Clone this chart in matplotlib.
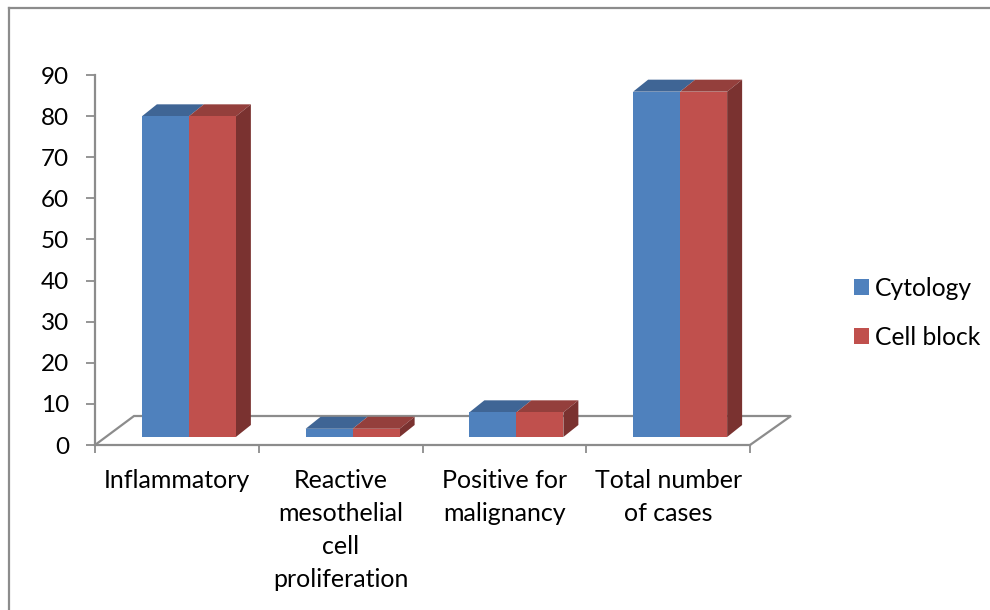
import numpy as np
import matplotlib
matplotlib.use('Agg')
import matplotlib.pyplot as plt
from matplotlib.lines import Line2D

plt.rcParams['font.family'] = ['Lato', 'DejaVu Sans']

# data
categories = ['Inflammatory', 'Reactive\nmesothelial\ncell\nproliferation',
              'Positive for\nmalignancy', 'Total number\nof cases']
cytology = [78, 2, 6, 84]
cell_block = [78, 2, 6, 84]
y_ticks = [0, 10, 20, 30, 40, 50, 60, 70, 80, 90]

W, H = 990, 610
GREY = '#8c8c8c'
BLUE, BLUE_TOP = '#4f81bd', '#3f6595'
RED, RED_TOP, RED_SIDE = '#c0504d', '#943f3c', '#7a3230'

fig = plt.figure(figsize=(W / 100, H / 100), dpi=100)
# axes box in pixels: x 95..750, y 75..445
ax = fig.add_axes([95 / W, 1 - 445 / H, 655 / W, 370 / H])
ax.set_xlim(-0.5, 3.5)
ax.set_ylim(0, 90)
ax.patch.set_visible(False)

px_x = 4 / 655   # one pixel in category units
px_y = 90 / 370  # one pixel in value units

# fake 3D depth, in data units
dx = 15 * px_x
dy = 12 * px_y
bar_w = 47 * px_x
shift = 12 * px_x
base = 8 * px_y

# floor
floor_x = [-0.5, -0.5 + 39 * px_x, 3.5 + 41 * px_x, 3.5]
floor_y = [0, 29 * px_y, 29 * px_y, 0]
ax.plot(floor_x, floor_y, color=GREY, lw=1.6, clip_on=False, zorder=1, solid_joinstyle='miter')

x = np.arange(len(categories))
b1 = ax.bar(x + shift - bar_w / 2, cytology, bar_w, bottom=base, color=BLUE, label='Cytology', zorder=4)
b2 = ax.bar(x + shift + bar_w / 2, cell_block, bar_w, bottom=base, color=RED, label='Cell block', zorder=4)

for i in x:
    left = i + shift - bar_w
    mid = i + shift
    right = i + shift + bar_w
    t1 = base + cytology[i]
    t2 = base + cell_block[i]
    ax.fill([left, left + dx, mid + dx, mid], [t1, t1 + dy, t1 + dy, t1], color=BLUE_TOP, lw=0, zorder=3, clip_on=False)
    ax.fill([mid, mid + dx, right + dx, right], [t2, t2 + dy, t2 + dy, t2], color=RED_TOP, lw=0, zorder=3, clip_on=False)
    ax.fill([right, right + dx, right + dx, right], [base, base + dy, t2 + dy, t2], color=RED_SIDE, lw=0, zorder=3, clip_on=False)

for s in ['top', 'right']:
    ax.spines[s].set_visible(False)
for s in ['left', 'bottom']:
    ax.spines[s].set_color(GREY)
    ax.spines[s].set_linewidth(1.6)

ax.set_yticks(y_ticks)
ax.set_xticks(np.arange(-0.5, 4, 1))
ax.set_xticklabels([])
ax.set_xticks(x, categories, minor=True)
ax.tick_params(axis='y', length=6.5, width=1.3, color=GREY, labelsize=17.5, pad=12)
ax.tick_params(axis='x', which='major', length=6, width=1.3, color=GREY)
ax.tick_params(axis='x', which='minor', length=0, labelsize=18, pad=17)
for lab in ax.get_xticklabels(minor=True):
    lab.set_linespacing(1.53)
    lab.set_ha('center')

fig.legend(handles=[b1, b2], loc='upper left', bbox_to_anchor=(844 / W, 1 - 267 / H),
           frameon=False, fontsize=17.7, handlelength=0.6, handleheight=0.6,
           handletextpad=0.25, labelspacing=1.05, borderpad=0.4, borderaxespad=0)

# outer chart frame: only top and left show
fig.add_artist(Line2D([9 / W, 9 / W], [0, 1 - 8 / H], color=GREY, lw=1.6))
fig.add_artist(Line2D([9 / W, 1], [1 - 8 / H, 1 - 8 / H], color=GREY, lw=1.6))

fig.savefig('out.png', dpi=100)
